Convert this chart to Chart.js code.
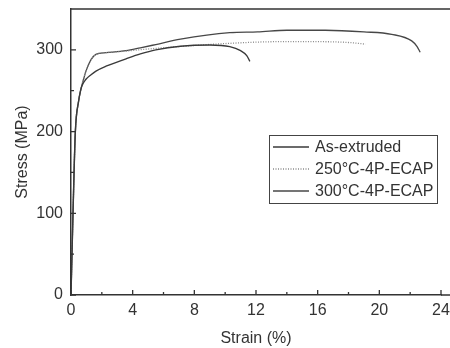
<!DOCTYPE html>
<html>
<head>
<meta charset="utf-8">
<script src="https://cdn.jsdelivr.net/npm/chart.js@4"></script>
<style>
  html, body { margin: 0; padding: 0; background: #fff; overflow: hidden; }
  #wrap { width: 450px; height: 348px; }
</style>
</head>
<body>
<div id="wrap"><canvas id="c"></canvas></div>
<script>
// strain (%) / stress (MPa)
const AS_EXT_STRAIN = [0, 0.13, 0.28, 0.5, 0.62, 0.71, 0.97, 1.3, 1.62, 2.27, 3.57, 4.5, 5.5, 7.1, 9.0, 10.3, 11.0, 11.4, 11.6];
const AS_EXT_STRESS = [0, 100, 199, 238, 250, 256, 264, 269.5, 274, 280, 289, 295, 300, 304.5, 306, 304, 299, 293, 286];

const E250_STRAIN = [0, 0.13, 0.28, 0.5, 0.62, 0.76, 0.97, 1.3, 1.62, 2.27, 3.57, 5.0, 7.0, 10.3, 13.5, 16.0, 18.0, 19.1];
const E250_STRESS = [0, 100, 199, 238, 250, 261, 274, 288, 294.5, 296.5, 298.5, 301, 304, 308, 310, 310, 309, 307];

const E300_STRAIN = [0, 0.13, 0.28, 0.5, 0.62, 0.76, 0.97, 1.3, 1.62, 2.27, 3.57, 4.5, 5.5, 7.1, 10.3, 12.1, 14.0, 16.5, 19.0, 20.8, 22.1, 22.45, 22.65];
const E300_STRESS = [0, 100, 199, 238, 250, 260, 274, 288, 294.5, 296.5, 299, 302.5, 306.5, 313, 321, 322, 324, 324, 322, 319, 311, 304, 297];

const SERIES_NAMES = ['As-extruded', '250°C-4P-ECAP', '300°C-4P-ECAP'];

const X_TICKS = [0, 2, 4, 6, 8, 10, 12, 14, 16, 18, 20, 22, 24];
const X_LABELS = ['0', '', '4', '', '8', '', '12', '', '16', '', '20', '', '24'];
const Y_TICKS = [0, 50, 100, 150, 200, 250, 300];
const Y_LABELS = ['0', '', '100', '', '200', '', '300'];

const INK = '#333';
const FONT = 'Liberation Sans, Arial, Helvetica, sans-serif';

function pts(xs, ys) {
  return xs.map((x, i) => ({ x, y: ys[i] }));
}

// inward tick marks, frame lines running off the right edge, and the boxed legend
const framePlugin = {
  id: 'frame',
  afterDraw(chart) {
    const { ctx, chartArea: a, scales: { x, y } } = chart;
    ctx.save();
    ctx.strokeStyle = INK;
    ctx.lineWidth = 1.5;
    ctx.beginPath();
    ctx.moveTo(a.left, a.top);
    ctx.lineTo(chart.width, a.top);
    ctx.moveTo(a.right, a.bottom);
    ctx.lineTo(chart.width, a.bottom);
    ctx.stroke();
    ctx.lineWidth = 1.3;
    ctx.beginPath();
    X_TICKS.forEach((v, i) => {
      const px = x.getPixelForValue(v);
      const len = X_LABELS[i] ? 5 : 3;
      ctx.moveTo(px, a.bottom);
      ctx.lineTo(px, a.bottom - len);
    });
    Y_TICKS.forEach((v, i) => {
      const py = y.getPixelForValue(v);
      const len = Y_LABELS[i] ? 5 : 3;
      ctx.moveTo(a.left, py);
      ctx.lineTo(a.left + len, py);
    });
    ctx.stroke();

    // legend
    const bx = 269, by = 135, bw = 168, bh = 68;
    ctx.fillStyle = '#fff';
    ctx.fillRect(bx, by, bw, bh);
    ctx.lineWidth = 1;
    ctx.strokeStyle = '#444';
    ctx.strokeRect(bx + 0.5, by + 0.5, bw, bh);
    ctx.font = '16px ' + FONT;
    ctx.textBaseline = 'middle';
    ctx.fillStyle = INK;
    chart.data.datasets.forEach((ds, i) => {
      const ry = by + 12 + i * 22;
      ctx.beginPath();
      ctx.strokeStyle = ds.borderColor;
      ctx.lineWidth = ds.borderWidth;
      ctx.setLineDash(ds.borderDash || []);
      ctx.moveTo(bx + 4, ry);
      ctx.lineTo(bx + 40, ry);
      ctx.stroke();
      ctx.setLineDash([]);
      ctx.fillText(ds.label, bx + 46, ry + 1);
    });
    ctx.restore();
  },
};

new Chart(document.getElementById('c'), {
  type: 'line',
  data: {
    datasets: [
      {
        label: SERIES_NAMES[0],
        data: pts(AS_EXT_STRAIN, AS_EXT_STRESS),
        borderColor: '#3a3a3a',
        borderWidth: 1.4,
      },
      {
        label: SERIES_NAMES[1],
        data: pts(E250_STRAIN, E250_STRESS),
        borderColor: '#8a8a8a',
        borderWidth: 1.3,
        borderDash: [1, 1.5],
      },
      {
        label: SERIES_NAMES[2],
        data: pts(E300_STRAIN, E300_STRESS),
        borderColor: '#474747',
        borderWidth: 1.3,
      },
    ],
  },
  options: {
    responsive: true,
    maintainAspectRatio: false,
    animation: false,
    events: [],
    layout: { padding: { top: 9, left: 11, right: 9, bottom: 0 } },
    elements: {
      point: { radius: 0 },
      line: { cubicInterpolationMode: 'monotone', fill: false },
    },
    plugins: { legend: { display: false }, tooltip: { enabled: false } },
    scales: {
      x: {
        type: 'linear',
        min: 0,
        max: 24,
        afterBuildTicks(s) { s.ticks = X_TICKS.map(v => ({ value: v })); },
        // drop the label overhang padding so the plot edges land where the reference has them
        afterFit(s) { s.height = 53; s.paddingLeft = 0; s.paddingRight = 0; },
        ticks: {
          color: INK,
          font: { family: FONT, size: 16 },
          padding: 6,
          maxRotation: 0,
          autoSkip: false,
          callback: (v, i) => X_LABELS[i],
        },
        grid: { display: false, drawTicks: false },
        border: { display: true, color: INK, width: 1.5 },
        title: {
          display: true,
          text: 'Strain (%)',
          color: INK,
          font: { family: FONT, size: 16 },
          padding: 0,
        },
      },
      y: {
        min: 0,
        max: 350,
        afterBuildTicks(s) { s.ticks = Y_TICKS.map(v => ({ value: v })); },
        afterFit(s) { s.width = 60; s.paddingTop = 0; s.paddingBottom = 0; },
        ticks: {
          color: INK,
          font: { family: FONT, size: 16 },
          padding: 8,
          autoSkip: false,
          callback: (v, i) => Y_LABELS[i],
        },
        grid: { display: false, drawTicks: false },
        border: { display: true, color: INK, width: 1.5 },
        title: {
          display: true,
          text: 'Stress (MPa)',
          color: INK,
          font: { family: FONT, size: 16 },
          padding: { top: 2, bottom: 0 },
        },
      },
    },
  },
  plugins: [framePlugin],
});
</script>
</body>
</html>
